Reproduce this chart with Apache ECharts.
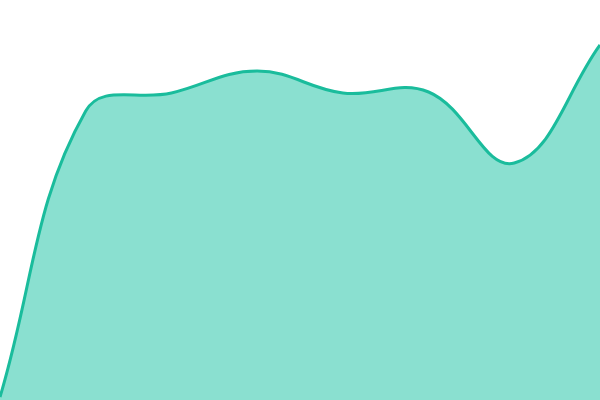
<!DOCTYPE html>
<html>
<head>
<meta charset="utf-8">
<script src="https://cdn.jsdelivr.net/npm/echarts@6/dist/echarts.min.js"></script>
<style>html,body{margin:0;padding:0;background:#fff}#c{width:600px;height:400px}</style>
</head>
<body>
<div id="c"></div>
<script>
const categories = ['1','2','3','4','5','6','7','8'];
const values = [3, 289, 307, 329, 307, 308, 237, 355];

// Distance-weighted spline (tension 0.4) through the projected points
function splinePath(pts, t, W, H) {
  const n = pts.length;
  const dist = (a, b) => Math.hypot(b[0] - a[0], b[1] - a[1]);
  const cps = pts.map((cur, i) => {
    const prev = pts[Math.max(i - 1, 0)];
    const next = pts[Math.min(i + 1, n - 1)];
    const d01 = dist(prev, cur), d12 = dist(cur, next);
    let s01 = d01 / (d01 + d12), s12 = d12 / (d01 + d12);
    if (!isFinite(s01)) s01 = 0;
    if (!isFinite(s12)) s12 = 0;
    const fa = t * s01, fb = t * s12;
    const clampX = v => Math.max(0, Math.min(W, v));
    const clampY = v => Math.max(0, Math.min(H, v));
    return {
      px: clampX(cur[0] - fa * (next[0] - prev[0])),
      py: clampY(cur[1] - fa * (next[1] - prev[1])),
      nx: clampX(cur[0] + fb * (next[0] - prev[0])),
      ny: clampY(cur[1] + fb * (next[1] - prev[1]))
    };
  });
  let d = 'M' + pts[0][0] + ' ' + pts[0][1];
  for (let i = 0; i < n - 1; i++) {
    const a = cps[i], b = cps[i + 1], p = pts[i + 1];
    d += ' C' + a.nx + ' ' + a.ny + ' ' + b.px + ' ' + b.py + ' ' + p[0] + ' ' + p[1];
  }
  return d;
}

const chart = echarts.init(document.getElementById('c'));
chart.setOption({
  animation: false,
  grid: { left: 0, right: 0, top: 0, bottom: 0 },
  xAxis: { type: 'category', data: categories, boundaryGap: false, show: false },
  yAxis: { type: 'value', min: 0, max: 400, show: false },
  series: [{
    type: 'custom',
    data: values.map((v, i) => [i, v]),
    encode: { x: 0, y: 1 },
    renderItem: function (params, api) {
      if (params.dataIndex !== 0) return null;
      const pts = values.map((v, i) => api.coord([i, v]));
      const W = params.coordSys.x + params.coordSys.width;
      const H = params.coordSys.y + params.coordSys.height;
      const line = splinePath(pts, 0.4, W, H);
      const baseR = api.coord([values.length - 1, 0]);
      const baseL = api.coord([0, 0]);
      const area = line + ' L' + baseR[0] + ' ' + baseR[1] + ' L' + baseL[0] + ' ' + baseL[1] + ' Z';
      return {
        type: 'group',
        children: [
          { type: 'path', shape: { pathData: area }, style: { fill: '#8ae0d0', stroke: 'none' } },
          { type: 'path', shape: { pathData: line }, style: { fill: 'none', stroke: '#1abc9c', lineWidth: 3 } }
        ]
      };
    }
  }]
});
</script>
</body>
</html>
